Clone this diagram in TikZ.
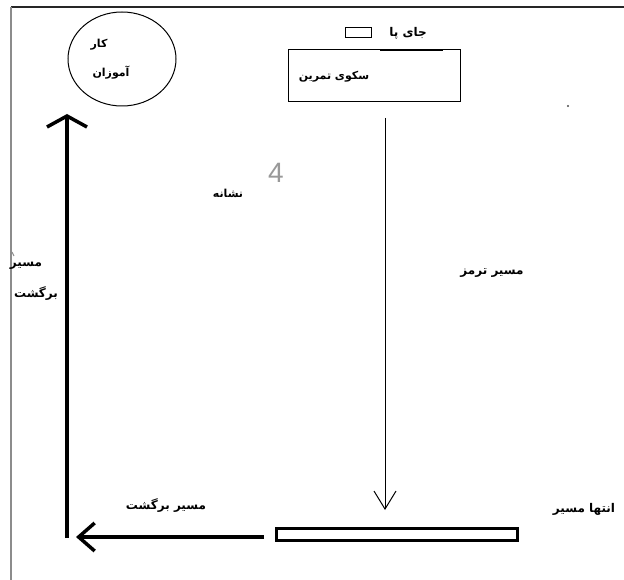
\documentclass[tikz,border=0pt]{standalone}
\usepackage{fontspec}
\TeXXeTstate=1
\newfontfamily\arabicfont[Script=Arabic]{DejaVu Sans}
\newfontfamily\numfont{Liberation Sans}
\usetikzlibrary{arrows.meta,shapes.geometric}
\tikzset{
  lbl/.style={font=\arabicfont\bfseries\fontsize{12}{14}\selectfont, inner sep=0pt},
  smalllbl/.style={font=\arabicfont\bfseries\fontsize{11}{13}\selectfont, inner sep=0pt},
  bigarrow/.style={line width=3.5pt},
  thinline/.style={line width=1pt},
}
\begin{document}
\begin{tikzpicture}[x=1pt,y=-1pt]
\useasboundingbox (0,0) rectangle (624,580);
\fill[white] (0,0) rectangle (624,580);
% frame
\draw[line width=2pt, black!85] (11,7) -- (624,7);
\draw[line width=2pt, black!45] (11,7) -- (11,580);
\draw[line width=1pt, black!45] (12,252) -- (14,256);
% circle
\node[ellipse, draw, thinline, minimum width=108pt, minimum height=94pt] (trainee) at (122,59) {};
\node[smalllbl] (t1) at (99,45) {\beginR کار\endR};
\node[smalllbl] (t2) at (111,73) {\beginR آموزان\endR};
% foot place
\node[draw, thinline, minimum width=26pt, minimum height=10pt, inner sep=0pt] (foot) at (358,33) {};
\node[lbl] (footlbl) at (408,33) {\beginR جای پا\endR};
% platform
\node[draw, thinline, minimum width=172pt, minimum height=52pt, inner sep=0pt] (platform) at (374,76) {};
\draw[line width=2pt] (380,50) -- (443,50);
\node[smalllbl] (platlbl) at (334,77) {\beginR سکوی تمرین\endR};
% dot
\fill[black!70] (568,106) circle (1.2pt);
% brake path
\coordinate (brakeStart) at (385,118);
\coordinate (brakeEnd) at (385,510);
\draw[thinline, -{Straight Barb[length=18pt,width=22pt]}] (brakeStart) -- (brakeEnd);
\node[lbl] (brakelbl) at (492,273) {\beginR مسیر ترمز\endR};
% sign
\node[font=\numfont\fontsize{28}{28}\selectfont, text=black!40, inner sep=0pt] (four) at (276,173) {4};
\node[smalllbl] (sign) at (228,193) {\beginR نشانه\endR};
% end rect
\node[draw, line width=3pt, minimum width=241pt, minimum height=12pt, inner sep=0pt] (endrect) at (396.5,534) {};
\node[lbl] (endlbl) at (584,509) {\beginR انتها مسیر\endR};
% return paths
\coordinate (retStart) at (264,537);
\coordinate (retEnd) at (76,537);
\draw[bigarrow, -{Straight Barb[length=16pt,width=28pt]}] (retStart) -- (retEnd);
\node[lbl] (retlbl) at (166,506) {\beginR مسیر برگشت\endR};
\coordinate (upStart) at (67,538);
\coordinate (upEnd) at (67,114);
\draw[bigarrow, -{Straight Barb[length=11pt,width=40pt]}] (upStart) -- (upEnd);
\node[lbl] (up1) at (26,266) {\beginR مسیر\endR};
\node[lbl] (up2) at (36,294) {\beginR برگشت\endR};
\end{tikzpicture}
\end{document}
